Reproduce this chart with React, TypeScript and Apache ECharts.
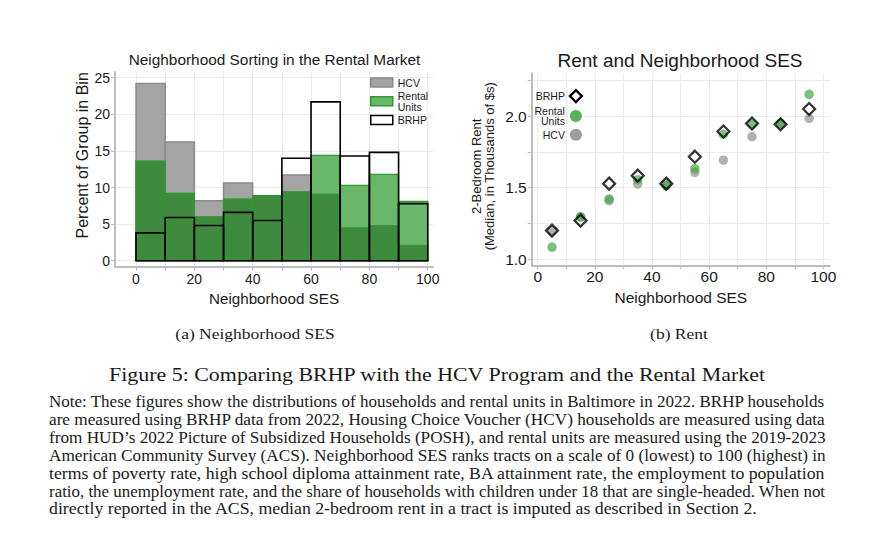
import React, { useEffect, useRef } from "react";
import * as echarts from "echarts";

// ---------- data ----------
const binStarts = [0, 10, 20, 30, 40, 50, 60, 70, 80, 90];
const binWidth = 10;
const hcvShare = [24.2, 16.2, 8.2, 10.6, 8.8, 11.7, 9.1, 4.5, 4.8, 2.1];
const rentalShare = [13.6, 9.2, 6.0, 8.4, 8.9, 9.4, 14.4, 10.3, 11.8, 8.1];
const brhpShare = [3.8, 5.9, 4.8, 6.6, 5.5, 14.0, 21.7, 14.3, 14.8, 7.8];

const sesMid = [5, 15, 25, 35, 45, 55, 65, 75, 85, 95];
const hcvRent = [1.199, 1.297, 1.409, 1.526, 1.526, 1.607, 1.692, 1.857, 1.946, 1.986];
const rentalRent = [1.084, 1.294, 1.421, 1.556, 1.514, 1.633, 1.874, 1.946, 1.949, 2.154];
const brhpRent = [1.199, 1.269, 1.528, 1.584, 1.528, 1.717, 1.893, 1.949, 1.944, 2.051];

const pctTicks = [0, 5, 10, 15, 20, 25];
const sesTicks = [0, 10, 20, 30, 40, 50, 60, 70, 80, 90, 100];
const sesLabels = [0, 20, 40, 60, 80, 100];
const rentTicks = [1, 1.25, 1.5, 1.75, 2, 2.25];
const rentLabels = [1, 1.5, 2];

const leftTitle = "Neighborhood Sorting in the Rental Market";
const rightTitle = "Rent and Neighborhood SES";
const subA = "(a) Neighborhood SES";
const subB = "(b) Rent";
const figCaption = "Figure 5: Comparing BRHP with the HCV Program and the Rental Market";
const noteLines = [
  "Note: These figures show the distributions of households and rental units in Baltimore in 2022. BRHP households",
  "are measured using BRHP data from 2022, Housing Choice Voucher (HCV) households are measured using data",
  "from HUD\u2019s 2022 Picture of Subsidized Households (POSH), and rental units are measured using the 2019-2023",
  "American Community Survey (ACS). Neighborhood SES ranks tracts on a scale of 0 (lowest) to 100 (highest) in",
  "terms of poverty rate, high school diploma attainment rate, BA attainment rate, the employment to population",
  "ratio, the unemployment rate, and the share of households with children under 18 that are single-headed. When not",
  "directly reported in the ACS, median 2-bedroom rent in a tract is imputed as described in Section 2.",
];

// ---------- styles ----------
const SANS = "'Liberation Sans', Arial, Helvetica, sans-serif";
const SERIF = "'Liberation Serif', 'Times New Roman', serif";
const AXIS_COLOR = "#bdbdbd";
const GRID_COLOR = "#ebebeb";
const TEXT_COLOR = "#1a1a1a";

const HCV_FILL = "#a4a4a4";
const HCV_STROKE = "#8a8a8a";
const RENT_FILL = "#69b869";
const RENT_STROKE = "#2f9a2f";
const OVER_FILL = "#3e8b3e";

const NOTE_LEFT = 49;
const NOTE_WIDTH = 777;
const NOTE_FONT = 16;

function barRender(fill: string, stroke: string, lw: number) {
  return (params: any, api: any) => {
    const x0 = api.value(0);
    const x1 = api.value(1);
    const v = api.value(2);
    const p0 = api.coord([x0, 0]);
    const p1 = api.coord([x1, v]);
    return {
      type: "rect",
      shape: { x: p0[0], y: p1[1], width: p1[0] - p0[0], height: p0[1] - p1[1] },
      style: { fill, stroke, lineWidth: lw },
    };
  };
}

function axisCommon(fontSize: number) {
  return {
    axisLine: { show: true, onZero: false, lineStyle: { color: AXIS_COLOR, width: 2 } },
    axisTick: { show: true, inside: false, length: 4, lineStyle: { color: AXIS_COLOR, width: 1.2 } },
    splitLine: { show: true, lineStyle: { color: GRID_COLOR, width: 1 } },
    axisLabel: { color: TEXT_COLOR, fontSize, fontFamily: SANS, margin: 5 },
    nameTextStyle: { color: TEXT_COLOR, fontFamily: SANS },
  };
}

function serifText(text: string, x: number, y: number, fontSize: number, stretch: number, align: string) {
  return {
    type: "text",
    x,
    y,
    scaleX: stretch,
    style: { text, fontSize, fontFamily: SERIF, fill: TEXT_COLOR, align, verticalAlign: "middle" },
  };
}

function measure(text: string, fontSize: number): number {
  const c = document.createElement("canvas");
  const ctx = c.getContext("2d");
  if (!ctx) return 0;
  ctx.font = `${fontSize}px ${SERIF}`;
  return ctx.measureText(text).width;
}

export default function App() {
  const ref = useRef<HTMLDivElement>(null);

  useEffect(() => {
    if (!ref.current) return;
    const chart = echarts.init(ref.current, undefined, { renderer: "svg" });

    const binData = (vals: number[]) => binStarts.map((s, i) => [s, s + binWidth, vals[i]]);
    const overlap = hcvShare.map((h, i) => Math.min(h, rentalShare[i]));

    // justify the note paragraph: every line but the last fills the text width
    const noteStretch = noteLines.map((line, i) => {
      if (i === noteLines.length - 1) return 1.113;
      const w = measure(line, NOTE_FONT);
      return w > 0 ? NOTE_WIDTH / w : 1.113;
    });

    const lc = axisCommon(14);
    const rc = axisCommon(15.5);

    const option: any = {
      animation: false,
      backgroundColor: "#ffffff",
      textStyle: { fontFamily: SANS },
      title: [
        {
          text: leftTitle,
          left: 274.5,
          top: 52,
          textAlign: "center",
          padding: 0,
          textStyle: { fontSize: 15.4, fontWeight: "normal", color: TEXT_COLOR, fontFamily: SANS },
        },
        {
          text: rightTitle,
          left: 680,
          top: 51,
          textAlign: "center",
          padding: 0,
          textStyle: { fontSize: 19, fontWeight: "normal", color: TEXT_COLOR, fontFamily: SANS },
        },
      ],
      grid: [
        { left: 115, top: 72, width: 318, height: 194.7, containLabel: false, outerBoundsMode: "none" },
        { left: 531.7, top: 73.3, width: 298.3, height: 192, containLabel: false, outerBoundsMode: "none" },
      ],
      legend: [
        {
          orient: "vertical",
          left: 370,
          top: 77,
          itemWidth: 22,
          itemHeight: 9,
          itemGap: 2.5,
          padding: 0,
          selectedMode: false,
          textStyle: { fontSize: 10.5, lineHeight: 10.5, color: TEXT_COLOR, fontFamily: SANS },
          formatter: (name: string) => (name === "Rental Units" ? "Rental\nUnits" : name),
          data: [
            { name: "HCV", icon: "rect", itemStyle: { color: HCV_FILL, borderColor: HCV_STROKE, borderWidth: 1.5 } },
            { name: "Rental Units", icon: "rect", itemStyle: { color: RENT_FILL, borderColor: RENT_STROKE, borderWidth: 1.5 } },
            { name: "BRHP", icon: "rect", itemStyle: { color: "#ffffff", borderColor: "#000000", borderWidth: 1.5 } },
          ],
        },
        {
          orient: "vertical",
          align: "right",
          right: 289,
          top: 89,
          itemWidth: 12,
          itemHeight: 12,
          itemGap: 2,
          padding: 0,
          selectedMode: false,
          textStyle: { fontSize: 10.5, lineHeight: 10.5, color: TEXT_COLOR, fontFamily: SANS },
          formatter: (name: string) => (name === "Rental Units" ? "Rental\nUnits" : name),
          data: [
            { name: "BRHP", icon: "diamond", itemStyle: { color: "rgba(0,0,0,0)", borderColor: "#000000", borderWidth: 2.2 } },
            { name: "Rental Units", icon: "circle", itemStyle: { color: "rgba(60,165,60,0.85)", borderWidth: 0 } },
            { name: "HCV", icon: "circle", itemStyle: { color: "rgba(140,140,140,0.85)", borderWidth: 0 } },
          ],
        },
      ],
      xAxis: [
        {
          type: "value",
          gridIndex: 0,
          min: -7.2,
          max: 101.8,
          name: "Neighborhood SES",
          nameLocation: "middle",
          nameGap: 24,
          ...lc,
          nameTextStyle: { ...lc.nameTextStyle, fontSize: 15.2 },
          axisTick: { ...lc.axisTick, customValues: sesTicks },
          axisLabel: { ...lc.axisLabel, customValues: sesLabels },
        },
        {
          type: "value",
          gridIndex: 1,
          min: -2.1,
          max: 102.3,
          name: "Neighborhood SES",
          nameLocation: "middle",
          nameGap: 24,
          ...rc,
          nameTextStyle: { ...rc.nameTextStyle, fontSize: 15.5 },
          axisTick: { ...rc.axisTick, customValues: sesTicks },
          axisLabel: { ...rc.axisLabel, margin: 3, customValues: sesLabels },
        },
      ],
      yAxis: [
        {
          type: "value",
          gridIndex: 0,
          min: -0.82,
          max: 25.78,
          name: "Percent of Group in Bin",
          nameLocation: "middle",
          nameGap: 24,
          ...lc,
          nameTextStyle: { ...lc.nameTextStyle, fontSize: 16, padding: [0, 0, 0, 28] },
          axisTick: { ...lc.axisTick, customValues: pctTicks },
          axisLabel: { ...lc.axisLabel, customValues: pctTicks },
        },
        {
          type: "value",
          gridIndex: 1,
          min: 0.956,
          max: 2.301,
          name: "2-Bedroom Rent\n(Median, in Thousands of $s)",
          nameLocation: "middle",
          nameGap: 36,
          ...rc,
          nameTextStyle: { ...rc.nameTextStyle, fontSize: 13, lineHeight: 13, padding: [0, 0, 0, 6] },
          axisTick: { ...rc.axisTick, customValues: rentTicks },
          axisLabel: {
            ...rc.axisLabel,
            customValues: rentLabels,
            formatter: (v: number) => v.toFixed(1),
          },
        },
      ],
      series: [
        {
          name: "HCV",
          type: "custom",
          xAxisIndex: 0,
          yAxisIndex: 0,
          encode: { x: [0, 1], y: 2 },
          renderItem: barRender(HCV_FILL, HCV_STROKE, 1.5),
          itemStyle: { color: HCV_FILL },
          data: binData(hcvShare),
        },
        {
          name: "Rental Units",
          type: "custom",
          xAxisIndex: 0,
          yAxisIndex: 0,
          encode: { x: [0, 1], y: 2 },
          renderItem: barRender(RENT_FILL, RENT_STROKE, 1.2),
          itemStyle: { color: RENT_FILL },
          data: binData(rentalShare),
        },
        {
          name: "overlap",
          type: "custom",
          xAxisIndex: 0,
          yAxisIndex: 0,
          encode: { x: [0, 1], y: 2 },
          renderItem: barRender(OVER_FILL, "rgba(47,154,47,0.9)", 1),
          data: binData(overlap),
        },
        {
          name: "BRHP",
          type: "custom",
          xAxisIndex: 0,
          yAxisIndex: 0,
          encode: { x: [0, 1], y: 2 },
          renderItem: barRender("none", "#000000", 1.6),
          itemStyle: { color: "#ffffff" },
          data: binData(brhpShare),
        },
        {
          name: "HCV",
          type: "scatter",
          xAxisIndex: 1,
          yAxisIndex: 1,
          symbol: "circle",
          symbolSize: 9.5,
          itemStyle: { color: "rgba(140,140,140,0.85)" },
          data: sesMid.map((x, i) => [x, hcvRent[i]]),
        },
        {
          name: "Rental Units",
          type: "scatter",
          xAxisIndex: 1,
          yAxisIndex: 1,
          symbol: "circle",
          symbolSize: 9.5,
          itemStyle: { color: "rgba(60,165,60,0.85)" },
          data: sesMid.map((x, i) => [x, rentalRent[i]]),
        },
        {
          name: "BRHP",
          type: "scatter",
          xAxisIndex: 1,
          yAxisIndex: 1,
          symbol: "diamond",
          symbolSize: 12,
          itemStyle: { color: "rgba(0,0,0,0)", borderColor: "#000000", borderWidth: 2.2 },
          data: sesMid.map((x, i) => [x, brhpRent[i]]),
        },
      ],
      graphic: [
        serifText(subA, 255, 334, 15.5, 1.13, "center"),
        serifText(subB, 679, 334, 15.5, 1.13, "center"),
        serifText(figCaption, 437, 374, 19.5, 1.125, "center"),
        ...noteLines.map((line, i) =>
          serifText(line, NOTE_LEFT, 401.7 + i * 17.9, NOTE_FONT, noteStretch[i], "left")
        ),
      ],
    };

    chart.setOption(option);
    return () => chart.dispose();
  }, []);

  return (
    <div
      ref={ref}
      style={{ position: "fixed", left: 0, top: 0, width: 872, height: 559, background: "#fff" }}
    />
  );
}
